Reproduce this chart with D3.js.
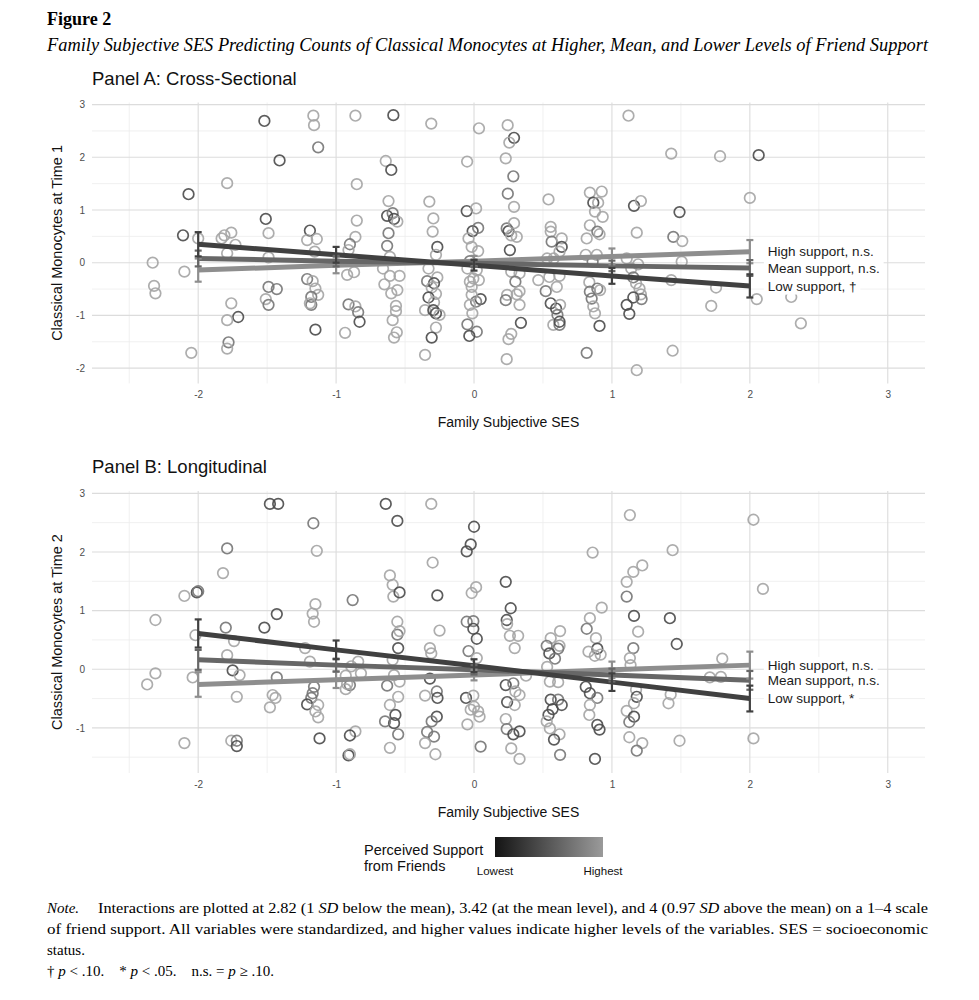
<!DOCTYPE html>
<html>
<head>
<meta charset="utf-8">
<script src="https://cdn.jsdelivr.net/npm/d3@7"></script>
<style>
  html, body { margin: 0; padding: 0; background: #fff; }
  svg { display: block; }
  text.pre { white-space: pre; }
</style>
</head>
<body>
<svg id="chart" width="979" height="1000"></svg>
<script>
// ---------------- DATA ----------------
const xTicks = [-2, -1, 0, 1, 2, 3];
const xMinor = [-2.5, -1.5, -0.5, 0.5, 1.5, 2.5];
const yTicksA = [-2, -1, 0, 1, 2, 3];
const yMinorA = [-1.5, -0.5, 0.5, 1.5, 2.5];
const yTicksB = [-1, 0, 1, 2, 3];
const yMinorB = [-1.5, -0.5, 0.5, 1.5, 2.5];

// fitted values at SES = -2..2
const fitX = [-2, -1, 0, 1, 2];
const supportNames = ["High", "Mean", "Low"];
const fitA_high = [-0.14, -0.05, 0.03, 0.12, 0.21];
const fitA_mean = [0.08, 0.03, -0.01, -0.06, -0.10];
const fitA_low  = [0.35, 0.15, -0.05, -0.25, -0.44];
const seA_high = [0.22, 0.15, 0.10, 0.15, 0.22];
const seA_mean = [0.15, 0.10, 0.07, 0.10, 0.15];
const seA_low  = [0.23, 0.15, 0.10, 0.15, 0.22];
const fitB_high = [-0.26, -0.18, -0.10, -0.01, 0.07];
const fitB_mean = [0.16, 0.07, -0.01, -0.10, -0.19];
const fitB_low  = [0.61, 0.33, 0.06, -0.22, -0.50];
const seB_high = [0.21, 0.14, 0.09, 0.14, 0.23];
const seB_mean = [0.17, 0.11, 0.08, 0.11, 0.16];
const seB_low  = [0.24, 0.16, 0.11, 0.15, 0.22];
const labelsA = ["High support, n.s.", "Mean support, n.s.", "Low support, \u2020"];
const labelsB = ["High support, n.s.", "Mean support, n.s.", "Low support, *"];

// points: [family SES, monocytes, friend support (-1 low, 0 mid, 1 high)]
const pointsA = [
[-2.33,0,1],[-2.32,-0.44,1],[-2.31,-0.58,1],[-2.07,1.30,-1],[-2.11,0.52,-1],[-2.10,-0.17,1],[-2.05,-1.71,1],[-2.0,0.46,1],
[-1.79,1.51,1],[-1.81,0.52,1],[-1.76,0.57,1],[-1.83,0.46,1],[-1.73,0.34,1],[-1.79,0.18,1],[-1.76,-0.77,1],[-1.71,-1.03,-1],[-1.79,-1.09,1],[-1.78,-1.51,0],[-1.79,-1.63,1],
[-1.52,2.69,-1],[-1.41,1.94,-1],[-1.51,0.83,-1],[-1.49,0.56,1],[-1.49,-0.46,0],[-1.43,-0.50,0],[-1.51,-0.69,1],[-1.49,-0.80,0],[-1.49,0.1,1],
[-1.165,2.79,1],[-1.16,2.61,1],[-1.13,2.19,0],[-1.19,0.61,-1],[-1.21,0.43,1],[-1.14,0.45,1],[-1.155,0.21,1],[-1.21,-0.31,0],[-1.17,-0.35,1],[-1.15,-0.49,1],[-1.13,-0.61,1],[-1.18,-0.65,0],[-1.18,-0.80,0],[-1.19,-0.77,1],[-1.15,-1.27,-1],
[-0.86,2.79,1],[-0.85,1.49,1],[-0.85,0.80,1],[-0.86,0.49,1],[-0.90,0.35,0],[-0.91,0.24,1],[-0.92,-0.23,1],[-0.87,-0.18,1],[-0.91,-0.79,0],[-0.86,-0.83,1],[-0.84,-0.94,0],[-0.83,-1.12,-1],[-0.935,-1.33,1],
[-0.585,2.80,-1],[-0.31,2.64,1],[0.036,2.55,1],[0.244,2.61,1],[0.29,2.37,-1],[0.256,2.28,1],[1.12,2.79,1],
[-0.64,1.93,1],[-0.60,1.76,-1],[-0.05,1.92,1],[0.23,1.98,1],[0.285,1.64,0],[0.245,1.31,0],[0.29,1.06,1],[0.54,1.20,1],[1.43,2.07,1],
[0.84,1.33,1],[0.926,1.35,1],[0.865,1.14,-1],[0.90,1.14,1],[0.877,0.97,1],[0.933,0.87,1],[0.84,0.71,1],[0.894,0.59,0],[0.91,0.54,1],[0.817,0.46,1],
[1.16,1.08,-1],[1.21,1.17,1],[1.18,0.57,1],[1.49,0.96,-1],[1.445,0.49,0],[1.51,0.41,1],[1.43,-0.33,1],[1.44,-1.67,1],[1.18,-2.04,1],[0.817,-1.71,0],
[-0.62,1.17,1],[-0.63,0.89,-1],[-0.59,0.94,0],[-0.58,0.83,-1],[-0.556,0.78,1],[-0.62,0.56,0],[-0.63,0.32,0],[-0.61,0.11,1],[-0.66,-0.11,1],[-0.61,-0.25,1],[-0.65,-0.41,1],[-0.54,-0.25,1],[-0.556,-0.52,1],[-0.60,-0.58,1],[-0.566,-0.82,1],[-0.566,-0.92,1],[-0.59,-1.09,1],[-0.56,-1.32,1],[-0.58,-1.42,1],
[-0.324,1.16,1],[-0.295,0.84,1],[-0.30,0.59,1],[-0.266,0.30,-1],[-0.276,0.15,1],[-0.33,-0.11,1],[-0.34,-0.35,0],[-0.266,-0.28,1],[-0.29,-0.39,-1],[-0.307,-0.47,1],[-0.276,-0.59,1],[-0.33,-0.66,-1],[-0.29,-0.75,1],[-0.355,-0.90,1],[-0.295,-0.90,-1],[-0.276,-0.96,-1],[-0.25,-0.99,1],[-0.276,-1.23,1],[-0.307,-1.42,-1],[-0.355,-1.75,1],
[-0.053,0.98,-1],[0.015,1.03,1],[-0.01,0.60,-1],[0.03,0.66,0],[-0.04,0.46,1],[-0.017,0.30,1],[0.03,0.22,1],[-0.03,0.03,0],[-0.048,-0.11,1],[0.02,-0.14,1],[-0.005,-0.30,1],[-0.03,-0.36,1],[0.035,-0.33,1],[-0.017,-0.46,1],[0.048,-0.69,-1],[0.015,-0.74,0],[-0.017,-0.61,1],[-0.03,-0.80,1],[-0.012,-0.96,1],[-0.048,-1.17,0],[0.02,-1.31,0],[-0.034,-1.39,-1],
[0.237,0.65,0],[0.25,0.60,-1],[0.29,0.75,1],[0.27,0.52,1],[0.31,0.49,1],[0.26,0.24,-1],[0.27,-0.17,1],[0.33,-0.20,1],[0.30,-0.36,0],[0.33,-0.54,1],[0.24,-0.61,1],[0.23,-0.71,0],[0.31,-0.60,1],[0.33,-0.80,1],[0.34,-1.14,-1],[0.27,-1.35,1],[0.25,-1.45,1],[0.237,-1.83,1],
[0.556,0.68,1],[0.556,0.59,1],[0.563,0.40,0],[0.636,0.46,1],[0.636,0.30,-1],[0.62,0.21,1],[0.53,0.08,1],[0.578,0.08,1],[0.466,-0.33,1],[0.546,-0.27,1],[0.62,-0.25,1],[0.52,-0.54,0],[0.60,-0.46,1],[0.556,-0.77,-1],[0.595,-0.87,-1],[0.624,-0.80,1],[0.605,-0.99,0],[0.575,-1.18,1],[0.62,-1.18,0],[0.62,-1.12,-1],
[0.81,0.15,1],[0.89,0.15,1],[0.86,0.02,0],[0.836,-0.37,1],[0.894,-0.49,0],[0.84,-0.55,0],[0.914,-0.52,1],[0.853,-0.68,0],[0.865,-0.83,1],[0.877,-0.96,1],[0.91,-1.20,-1],
[1.107,0.08,1],[1.14,-0.11,1],[1.19,-0.03,1],[1.155,-0.28,0],[1.175,-0.39,1],[1.20,-0.49,1],[1.21,-0.60,1],[1.155,-0.66,-1],[1.215,-0.69,0],[1.107,-0.80,-1],[1.126,-0.97,-1],
[1.784,2.02,1],[2.064,2.04,-1],[2.0,1.23,1],[1.506,0.02,1],[1.755,-0.47,1],[1.72,-0.82,1],[2.05,-0.69,1],[2.30,-0.65,1],[2.37,-1.15,1]
];

const pointsB = [
[-2.31,0.84,1],[-2.31,-0.07,1],[-2.37,-0.26,1],[-2.10,1.25,1],[-2.01,1.31,-1],[-2.0,1.33,0],[-2.02,0.58,1],[-2.04,-0.14,1],[-2.10,-1.26,1],
[-1.79,2.06,0],[-1.82,1.64,1],[-1.80,0.71,0],[-1.74,0.48,1],[-1.79,0.24,1],[-1.75,-0.02,-1],[-1.70,-0.10,1],[-1.72,-0.47,1],[-1.76,-1.22,1],[-1.72,-1.22,0],[-1.72,-1.31,-1],
[-1.48,2.82,-1],[-1.42,2.82,-1],[-1.43,0.94,-1],[-1.52,0.71,-1],[-1.43,-0.14,0],[-1.46,-0.44,1],[-1.44,-0.49,1],[-1.48,-0.65,1],
[-1.165,2.49,0],[-1.14,2.02,1],[-1.15,1.11,1],[-1.17,0.95,1],[-1.16,0.81,1],[-1.225,0.36,1],[-1.19,0.13,1],[-1.16,-0.30,0],[-1.17,-0.41,0],[-1.18,-0.49,0],[-1.21,-0.60,-1],[-1.13,-0.61,1],[-1.15,-0.72,1],[-1.13,-0.82,1],[-1.12,-1.18,-1],
[-0.88,1.18,0],[-0.84,0.13,1],[-0.89,0.05,1],[-0.82,-0.07,1],[-0.93,-0.11,1],[-0.90,-0.27,0],[-0.93,-0.34,1],[-0.92,-0.25,1],[-0.86,-1.06,1],[-0.90,-1.13,-1],[-0.91,-1.47,-1],[-0.90,-1.45,1],
[-0.64,2.82,-1],[-0.31,2.82,1],[-0.556,2.53,-1],[0,2.43,-1],[-0.024,2.13,-1],[-0.053,2.01,-1],[1.13,2.63,1],[0.86,1.99,1],[1.44,2.03,1],
[-0.30,1.82,1],[-0.61,1.60,1],[-0.59,1.44,1],[-0.585,1.24,1],[-0.54,1.31,-1],[-0.266,1.26,-1],[0.23,1.49,-1],[0.015,1.40,1],[-0.017,1.30,1],
[1.155,1.66,1],[1.22,1.77,1],[1.107,1.49,1],[1.107,1.24,0],[0.926,1.05,1],[0.266,1.04,-1],[1.16,0.91,-1],[1.42,0.87,-1],[1.47,0.43,-1],[1.19,0.64,1],
[0.84,0.87,1],[0.817,0.69,0],[0.884,0.53,1],[0.894,0.35,-1],[0.83,0.30,1],[0.876,0.23,1],[0.918,0.25,1],
[0.81,-0.30,-1],[0.84,-0.41,-1],[0.894,-0.49,0],[0.84,-0.61,1],[0.836,-0.78,1],[0.894,-0.95,-1],[0.91,-1.03,-1],[0.877,-1.53,-1],
[1.155,0.36,0],[1.13,0.19,1],[1.135,0.07,1],[1.175,-0.35,1],[1.18,-0.47,-1],[1.16,-0.58,1],[1.107,-0.71,1],[1.16,-0.81,-1],[1.126,-0.90,0],[1.126,-1.16,1],[1.22,-1.26,1],[1.18,-1.39,0],[1.426,-0.43,1],[1.41,-0.58,1],[1.49,-1.22,1],
[-0.556,0.81,1],[-0.556,0.59,0],[-0.54,0.65,1],[-0.55,0.36,-1],[-0.59,0.16,1],[-0.58,-0.10,1],[-0.54,-0.21,1],[-0.63,-0.28,0],[-0.55,-0.47,1],[-0.61,-0.61,1],[-0.57,-0.78,-1],[-0.58,-0.92,-1],[-0.645,-0.89,0],[-0.55,-1.11,0],[-0.61,-1.34,1],
[-0.25,0.66,1],[-0.32,0.36,1],[-0.31,0.27,1],[-0.32,-0.16,-1],[-0.27,-0.38,0],[-0.355,-0.45,1],[-0.265,-0.49,-1],[-0.27,-0.81,-1],[-0.307,-0.89,0],[-0.34,-1.07,0],[-0.29,-1.15,0],[-0.355,-1.26,1],[-0.28,-1.45,1],
[-0.053,0.81,0],[-0.005,0.82,0],[-0.005,0.69,-1],[0.02,0.52,-1],[-0.04,0.31,0],[0.02,0.19,1],[-0.058,-0.49,-1],[-0.005,-0.45,1],[0,-0.64,1],[0.03,-0.72,1],[0.04,-0.81,1],[-0.024,-0.69,1],[-0.048,-0.94,1],[0.048,-1.32,0],
[0.237,0.84,-1],[0.24,0.77,1],[0.26,0.57,1],[0.32,0.57,1],[0.295,0.36,1],[0.23,-0.27,-1],[0.285,-0.24,0],[0.30,-0.38,1],[0.33,-0.44,1],[0.24,-0.56,-1],[0.295,-0.61,1],[0.23,-0.85,1],[0.237,-1.02,0],[0.285,-1.11,-1],[0.33,-1.06,-1],[0.27,-1.35,1],[0.33,-1.53,1],[0.377,-0.11,1],
[0.624,0.65,1],[0.556,0.53,1],[0.527,0.40,0],[0.62,0.40,1],[0.61,0.35,0],[0.546,0.27,-1],[0.587,0.18,0],[0.53,0.04,1],[0.55,-0.21,1],[0.61,-0.22,1],[0.556,-0.52,-1],[0.61,-0.52,0],[0.636,-0.61,-1],[0.57,-0.68,-1],[0.54,-0.78,-1],[0.527,-0.89,1],[0.55,-1.01,1],[0.62,-1.11,1],[0.58,-1.20,-1],[0.624,-1.46,0],
[2.026,2.55,1],[2.095,1.37,1],[1.80,0.18,1],[1.71,-0.14,1],[1.79,-0.13,1],[2.026,-1.18,1]
];

// ---------------- DRAW ----------------
const svg = d3.select("#chart");
svg.append("rect").attr("width", 979).attr("height", 1000).attr("fill", "#fff");

const SANS = "'Liberation Sans', Arial, Helvetica, sans-serif";
const SERIF = "'Liberation Serif', 'Times New Roman', Times, serif";

const x = d3.scaleLinear().domain([-2.77, 3.27]).range([92, 925]);
const pointColor = d3.scaleLinear().domain([-1, 0, 1]).range(["#4a4a4a", "#767676", "#a4a4a4"]);
const lineColor = { High: "#8e8e8e", Mean: "#676767", Low: "#404040" };

function drawPanel(cfg) {
  const y = d3.scaleLinear().domain(cfg.yDomain).range([cfg.bottom, cfg.top]);
  const g = svg.append("g");

  // minor grid
  g.append("g").selectAll("line").data(xMinor).join("line")
    .attr("x1", d => x(d)).attr("x2", d => x(d))
    .attr("y1", cfg.top).attr("y2", cfg.bottom)
    .attr("stroke", "#ececec").attr("stroke-width", 0.8);
  g.append("g").selectAll("line").data(cfg.yMinor).join("line")
    .attr("x1", x.range()[0]).attr("x2", x.range()[1])
    .attr("y1", d => y(d)).attr("y2", d => y(d))
    .attr("stroke", "#ececec").attr("stroke-width", 0.8);
  // major grid
  g.append("g").selectAll("line").data(xTicks).join("line")
    .attr("x1", d => x(d)).attr("x2", d => x(d))
    .attr("y1", cfg.top).attr("y2", cfg.bottom)
    .attr("stroke", "#dcdcdc").attr("stroke-width", 1.1);
  g.append("g").selectAll("line").data(cfg.yTicks).join("line")
    .attr("x1", x.range()[0]).attr("x2", x.range()[1])
    .attr("y1", d => y(d)).attr("y2", d => y(d))
    .attr("stroke", "#dcdcdc").attr("stroke-width", 1.1);

  // axes (labels only)
  const ax = g.append("g").attr("transform", `translate(0,${cfg.bottom})`)
    .call(d3.axisBottom(x).tickValues(xTicks).tickSize(0).tickPadding(8).tickFormat(d => String(d)));
  const ay = g.append("g").attr("transform", `translate(${x.range()[0]},0)`)
    .call(d3.axisLeft(y).tickValues(cfg.yTicks).tickSize(0).tickPadding(7).tickFormat(d => String(d)));
  [ax, ay].forEach(a => {
    a.select(".domain").remove();
    a.selectAll("text").attr("font-family", SANS).attr("font-size", 10).attr("fill", "#4d4d4d");
  });

  // points
  g.append("g").selectAll("circle").data(cfg.points).join("circle")
    .attr("cx", d => x(d[0])).attr("cy", d => y(d[1])).attr("r", 5.3)
    .attr("fill", "none").attr("stroke", d => pointColor(d[2]))
    .attr("stroke-width", 1.7).attr("stroke-opacity", 0.9);

  // regression lines
  const line = d3.line().x((d, i) => x(fitX[i])).y(d => y(d));
  cfg.fits.forEach((f, k) => {
    g.append("path").datum(f).attr("d", line)
      .attr("fill", "none").attr("stroke", lineColor[supportNames[k]])
      .attr("stroke-width", 5).attr("stroke-linecap", "butt");
  });
  // error bars
  cfg.fits.forEach((f, k) => {
    const se = cfg.ses[k];
    const col = lineColor[supportNames[k]];
    const eb = g.append("g");
    const rows = f.map((v, i) => ({ x: fitX[i], lo: v - se[i], hi: v + se[i] }));
    eb.selectAll("line.v").data(rows).join("line")
      .attr("x1", d => x(d.x)).attr("x2", d => x(d.x))
      .attr("y1", d => y(d.lo)).attr("y2", d => y(d.hi))
      .attr("stroke", col).attr("stroke-width", 2.2);
    ["lo", "hi"].forEach(key => {
      eb.selectAll("line." + key).data(rows).join("line")
        .attr("x1", d => x(d.x) - 3.5).attr("x2", d => x(d.x) + 3.5)
        .attr("y1", d => y(d[key])).attr("y2", d => y(d[key]))
        .attr("stroke", col).attr("stroke-width", 2.2);
    });
  });

  // end labels
  const lg = g.append("g");
  cfg.fits.forEach((f, k) => {
    const yy = y(f[f.length - 1]);
    const t = lg.append("text")
      .attr("x", x(2) + 18).attr("y", yy).attr("dy", "0.35em")
      .attr("font-family", SANS).attr("font-size", 13.5).attr("fill", "#1a1a1a")
      .text(cfg.labels[k]);
    const bb = t.node().getBBox();
    lg.insert("rect", "text")
      .attr("x", bb.x - 4).attr("y", bb.y - 1)
      .attr("width", bb.width + 8).attr("height", bb.height + 2)
      .attr("fill", "#fff");
  });

  // panel title
  svg.append("text").attr("x", 92).attr("y", cfg.titleY)
    .attr("font-family", SANS).attr("font-size", 18.5).attr("fill", "#111")
    .text(cfg.title);
  // axis titles
  svg.append("text").attr("x", (x.range()[0] + x.range()[1]) / 2).attr("y", cfg.bottom + 44)
    .attr("text-anchor", "middle").attr("font-family", SANS).attr("font-size", 14).attr("fill", "#111")
    .text("Family Subjective SES");
  svg.append("text")
    .attr("transform", `translate(62,${(cfg.top + cfg.bottom) / 2}) rotate(-90)`)
    .attr("text-anchor", "middle").attr("font-family", SANS).attr("font-size", 14.5).attr("fill", "#111")
    .text(cfg.yTitle);
}

drawPanel({
  top: 102.5, bottom: 383.4, yDomain: [-2.29, 3.04],
  yTicks: yTicksA, yMinor: yMinorA, points: pointsA,
  fits: [fitA_high, fitA_mean, fitA_low], ses: [seA_high, seA_mean, seA_low],
  labels: labelsA, title: "Panel A: Cross-Sectional", titleY: 85,
  yTitle: "Classical Monocytes at Time 1"
});
drawPanel({
  top: 491, bottom: 773, yDomain: [-1.77, 3.04],
  yTicks: yTicksB, yMinor: yMinorB, points: pointsB,
  fits: [fitB_high, fitB_mean, fitB_low], ses: [seB_high, seB_mean, seB_low],
  labels: labelsB, title: "Panel B: Longitudinal", titleY: 473,
  yTitle: "Classical Monocytes at Time 2"
});

// legend
const defs = svg.append("defs");
const grad = defs.append("linearGradient").attr("id", "supGrad");
grad.append("stop").attr("offset", "0%").attr("stop-color", "#141414");
grad.append("stop").attr("offset", "100%").attr("stop-color", "#9a9a9a");
svg.append("rect").attr("x", 495).attr("y", 837).attr("width", 108).attr("height", 20)
  .attr("fill", "url(#supGrad)");
svg.append("text").attr("x", 364).attr("y", 855).attr("font-family", SANS).attr("font-size", 14.5).attr("fill", "#111")
  .text("Perceived Support");
svg.append("text").attr("x", 364).attr("y", 871).attr("font-family", SANS).attr("font-size", 14.5).attr("fill", "#111")
  .text("from Friends");
svg.append("text").attr("x", 495).attr("y", 875).attr("text-anchor", "middle").attr("font-family", SANS).attr("font-size", 11.5).attr("fill", "#111")
  .text("Lowest");
svg.append("text").attr("x", 603).attr("y", 875).attr("text-anchor", "middle").attr("font-family", SANS).attr("font-size", 11.5).attr("fill", "#111")
  .text("Highest");

// figure title
svg.append("text").attr("x", 47).attr("y", 25).attr("font-family", SERIF).attr("font-weight", "bold")
  .attr("font-size", 18).attr("fill", "#000").text("Figure 2");
svg.append("text").attr("x", 47).attr("y", 51).attr("font-family", SERIF).attr("font-style", "italic")
  .attr("font-size", 18).attr("fill", "#000")
  .attr("textLength", 881).attr("lengthAdjust", "spacingAndGlyphs")
  .text("Family Subjective SES Predicting Counts of Classical Monocytes at Higher, Mean, and Lower Levels of Friend Support");

// note
function richText(xx, yy, parts, len) {
  const t = svg.append("text").attr("class", "pre").attr("x", xx).attr("y", yy)
    .attr("font-family", SERIF).attr("font-size", 15).attr("fill", "#000");
  if (len) t.attr("textLength", len).attr("lengthAdjust", "spacingAndGlyphs");
  parts.forEach(p => {
    const s = t.append("tspan").text(p[0]);
    if (p[1]) s.attr("font-style", "italic");
  });
  return t;
}
richText(47, 913, [["Note.", true]]);
richText(98, 913, [["Interactions are plotted at 2.82 (1 ", false], ["SD", true],
  [" below the mean), 3.42 (at the mean level), and 4 (0.97 ", false], ["SD", true],
  [" above the mean) on a 1\u20134 scale", false]], 830);
richText(47, 934, [["of friend support. All variables were standardized, and higher values indicate higher levels of the variables. SES = socioeconomic", false]], 881);
richText(47, 955, [["status.", false]]);
richText(47, 976, [["\u2020 ", false], ["p", true], [" < .10.    * ", false], ["p", true], [" < .05.    n.s. = ", false], ["p", true], [" \u2265 .10.", false]]);
</script>
</body>
</html>
